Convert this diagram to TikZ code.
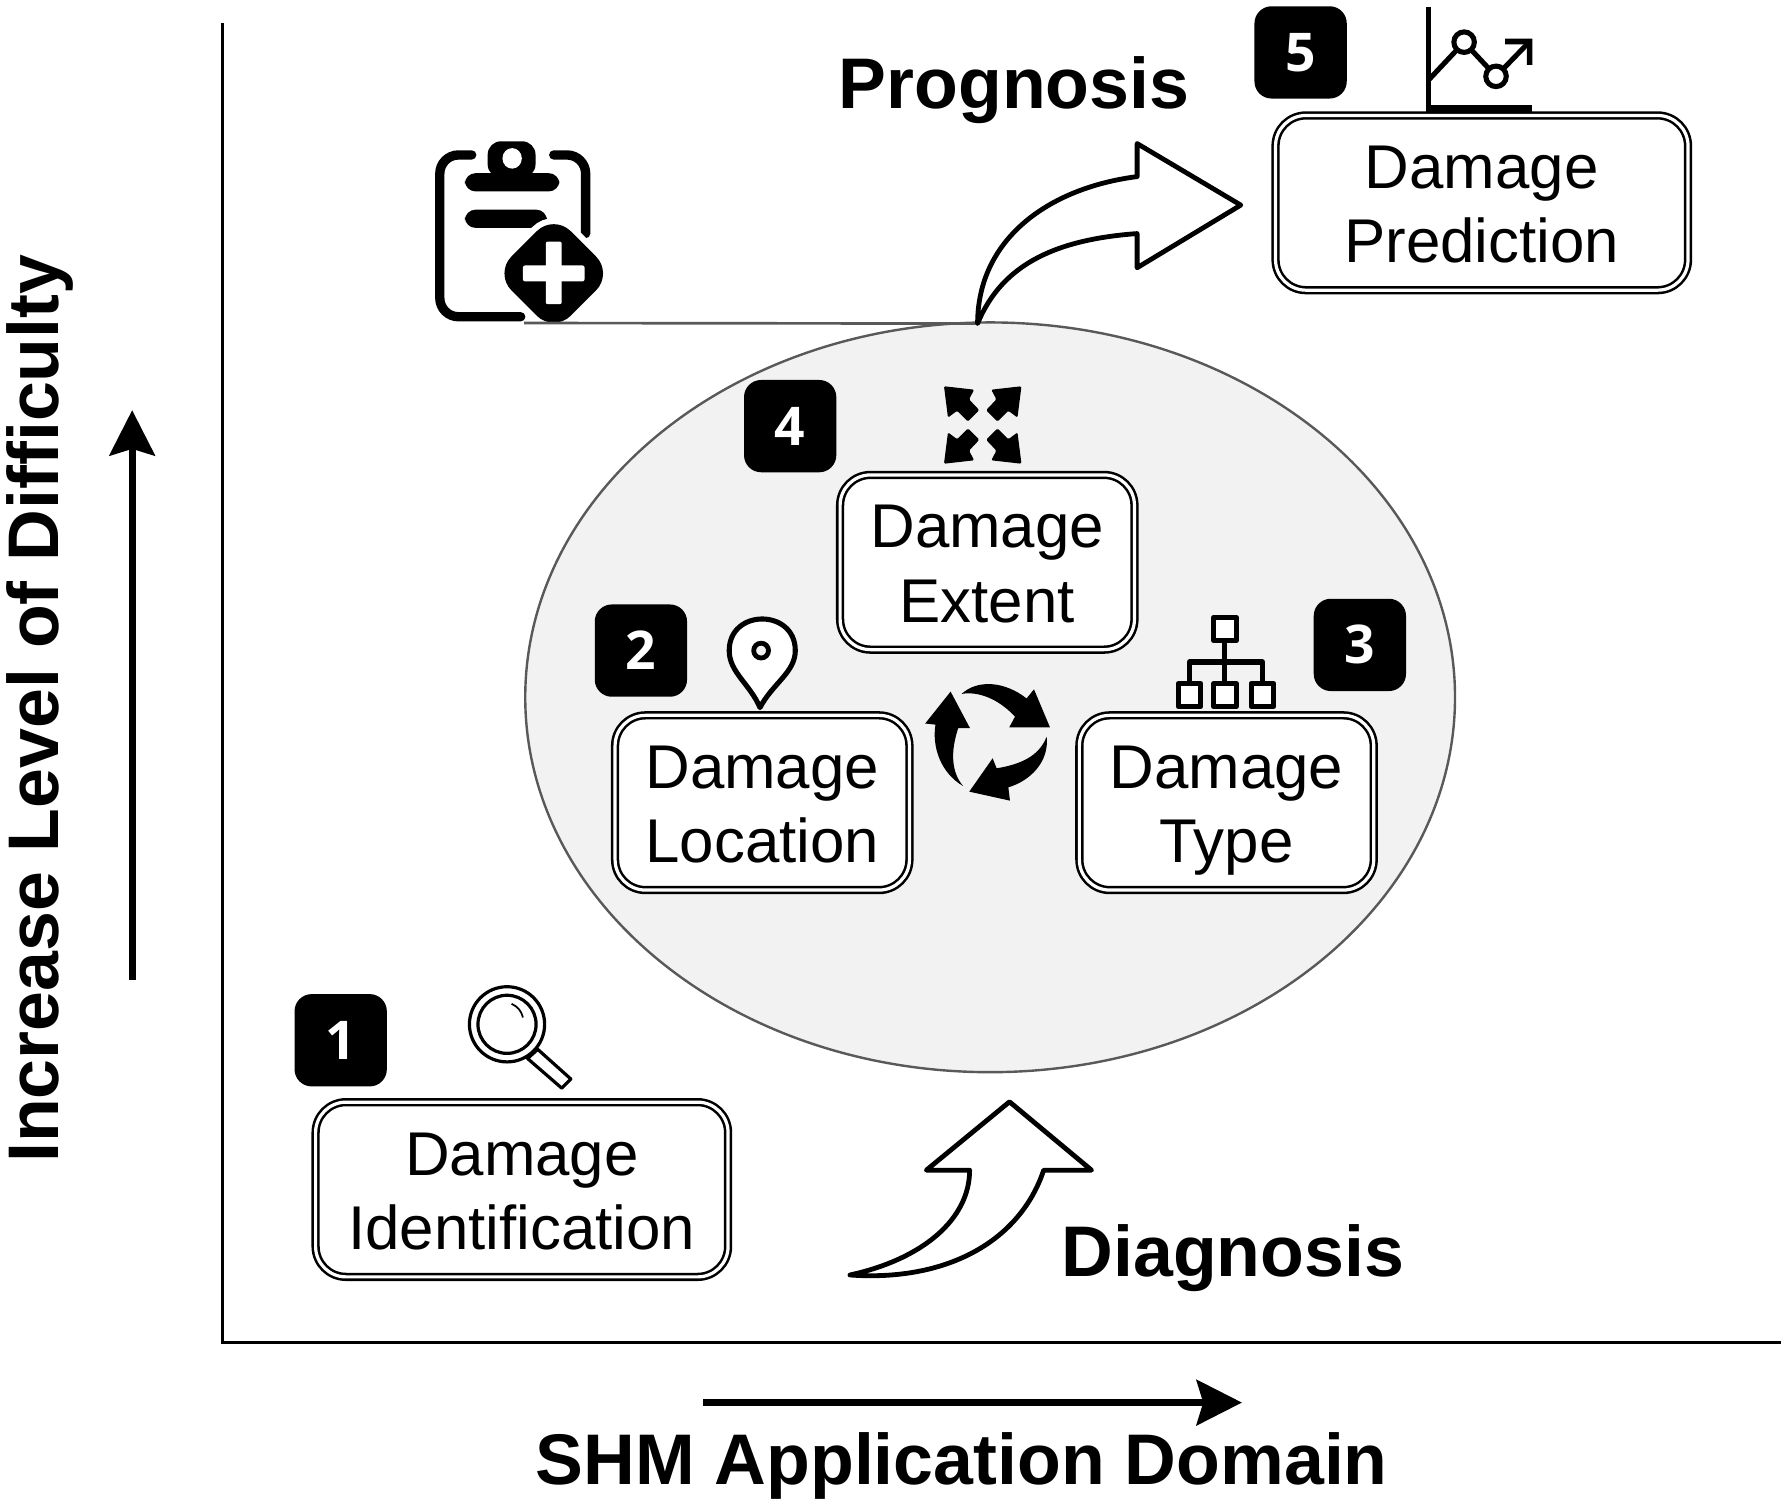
\documentclass[tikz,border=0pt]{standalone}
\usepackage{fontspec}
\usepackage{tikz}
\usetikzlibrary{arrows.meta,shapes.geometric}
\setmainfont{Liberation Sans}
\newfontfamily\numfont{Open Sans}
\begin{document}
\begin{tikzpicture}[x=0.03cm,y=-0.03cm,%
% common options for the damage boxes:
dbox/.style = {draw, double=white, double distance=2.4pt, line width=1.9pt, fill=white,
            rounded corners=0.8cm, align=center, inner sep=0, minimum height=4.6cm,
            text height=89.6pt, text depth=0pt,
            font=\fontsize{46.3}{55.6}\selectfont},
% common options for the numbered squares:
badge/.style = {fill=black, rounded corners=0.45cm, minimum size=2.43cm, inner sep=0,
            text=white, font=\numfont\bfseries\fontsize{40}{40}\selectfont},
% bold titles:
title/.style = {inner sep=0, font=\bfseries\fontsize{53.7}{60}\selectfont},
% hollow curved arrows:
bigarrow/.style = {draw, fill=white, line width=3.6pt, line join=round},
icon/.style = {draw, line width=3.8pt, line join=round}]
\useasboundingbox (0,0) rectangle (1564,1320);
% axes
\coordinate (yend) at (195,20);
\coordinate (origin) at (195,1178);
\coordinate (xend) at (1563,1178);
\draw[line width=2pt] (yend) -- (origin) -- (xend);
\coordinate (ya) at (116,860);
\coordinate (yb) at (116,360);
\coordinate (xa) at (617,1231);
\coordinate (xb) at (1090,1231);
\draw[line width=5pt,-{Stealth[length=34pt,width=34pt,inset=5pt]}] (ya) -- (yb);
\draw[line width=5pt,-{Stealth[length=34pt,width=34pt,inset=5pt]}] (xa) -- (xb);
\node[title,rotate=90] (ylabel) at (35,622) {Increase Level of Difficulty};
\node[title] (xlabel) at (844,1287) {SHM Application Domain};
% grey region
\node[ellipse,draw=black!65,fill=black!5,line width=1.8pt,minimum width=24.48cm,minimum height=19.74cm,inner sep=0] (region) at (869,612) {};
% clipboard
\draw[line width=7pt,line cap=round,rounded corners=14] (414,136) -- (386,136) -- (386,278) -- (457,278);
\draw[line width=7pt,line cap=round,rounded corners=14] (486,136) -- (514,136) -- (514,205);
\fill[rounded corners=10] (428,156) -- (428,124) -- (470,124) -- (470,156) -- cycle;
\fill[white] (449.5,139) ellipse (8.5 and 9);
\fill[rounded corners=8] (408,152) rectangle (491,168);
\fill[rounded corners=8] (408,184) rectangle (480,200);
\draw[white,line width=9pt,rounded corners=18] (486,188) -- (538,240) -- (486,292) -- (434,240) -- cycle;
\fill[rounded corners=18] (486,188) -- (538,240) -- (486,292) -- (434,240) -- cycle;
\fill[white,rounded corners=1.5] (459,233) rectangle (513,247);
\fill[white,rounded corners=1.5] (479,212) rectangle (493,267);
% line to the region
\coordinate (linestart) at (460,283.5);
\coordinate (arrowroot) at (858,284);
\draw[draw=black!65,line width=2pt] (linestart) -- (arrowroot);
% prognosis arrow
\draw[bigarrow,miter limit=4] (arrowroot) .. controls (858,210) and (920,165) .. (998,155) -- (998,126) -- (1089,180) -- (998,235) -- (998,205) .. controls (930,210) and (880,230) .. (arrowroot) -- cycle;
\node[title,anchor=base] (prognosis) at (890,95) {Prognosis};
% diagnosis arrow
\draw[bigarrow] (851,1027) .. controls (851,1070) and (810,1105) .. (746,1119) .. controls (830,1125) and (895,1090) .. (916,1027) -- (958,1027) -- (886,967) -- (813,1027) -- cycle;
\node[title,anchor=base] (diagnosis) at (1082,1120) {Diagnosis};
% boxes
\node[dbox,minimum width=10.86cm] (prediction) at (1300.5,178) {Damage\\Prediction};
\node[dbox,minimum width=7.75cm] (extent) at (866.5,493.5) {Damage\\Extent};
\node[dbox,minimum width=7.75cm] (location) at (669,704.5) {Damage\\Location};
\node[dbox,minimum width=7.75cm] (type) at (1076.5,704.5) {Damage\\Type};
\node[dbox,minimum width=10.86cm] (identification) at (458,1044) {Damage\\Identification};
% numbers
\node[badge] (n1) at (299,913) {1};
\node[badge] (n2) at (562.5,571) {2};
\node[badge] (n3) at (1193.5,566) {3};
\node[badge] (n4) at (693.5,374) {4};
\node[badge] (n5) at (1141.5,46) {5};
% magnifier
\draw[line width=2.4pt] (445,899) circle (33);
\draw[line width=2.4pt] (445,899) circle (25.5);
\draw[line width=1.3pt] (449,881) to[bend left=25] (459,893);
\draw[line width=2.4pt,line join=round] (463,929) -- (472,921) -- (501,947) -- (493,955) -- cycle;
% pin
\draw[icon,fill=white] (667,621) .. controls (658,600) and (640,590) .. (640,571) .. controls (640,534) and (698,534) .. (698,571) .. controls (698,590) and (678,600) .. (667,621) -- cycle;
\draw[line width=3.6pt,fill=black!5] (668,571) circle (6.5);
% hierarchy
\draw[icon] (1075,562) -- (1075,598) (1044,598) -- (1044,581) -- (1108,581) -- (1108,598);
\foreach \bx/\by in {1075/552,1044/610,1075/610,1108/610}
  \draw[icon,fill=white] (\bx-10,\by-10) rectangle (\bx+10,\by+10);
% expand arrows
\foreach \sx/\sy in {1/1,-1/1,1/-1,-1/-1}
  \fill[xshift=862.5*0.03cm,yshift=-373*0.03cm,xscale=\sx,yscale=\sy,rounded corners=1] (-34,-34) -- (-7.5,-31) -- (-12,-22.5) -- (-3,-13) -- (-13,-3) -- (-22.5,-12.5) -- (-30.5,-6.5) -- cycle;
% cycle arrows
\fill (834.3,607) -- (851.3,639) -- (841,639) .. controls (834,660) and (835,678) .. (845.4,690) .. controls (825,678) and (818,655) .. (821,636) -- (812,635) -- cycle;
\fill (844,609) .. controls (858,596) and (882,598) .. (901,613) -- (907.5,605) -- (921.5,638.3) -- (885.8,638.3) -- (890.8,629) .. controls (880,617) and (862,606) .. (844,609) -- cycle;
\fill (918.6,646.5) .. controls (921,668) and (905,685) .. (885,691) -- (886.4,702.7) -- (850.7,694.8) -- (871.2,665.5) -- (874.7,674.3) .. controls (895,671) and (912,664) .. (918.6,646.5) -- cycle;
% trend chart
\draw[line width=3.8pt] (1254,6) -- (1254,98);
\fill (1254,92) rectangle (1345,98);
\draw[line width=3.8pt] (1254,70) -- (1285,37) -- (1313,67) -- (1342,37);
\draw[line width=3.8pt,fill=white] (1285,37) circle (9);
\draw[line width=3.8pt,fill=white] (1313,67) circle (9);
\fill (1321,34) -- (1345,34) -- (1345,57) -- (1340,57) -- (1340,39) -- (1321,39) -- cycle;
\end{tikzpicture}
\end{document}
